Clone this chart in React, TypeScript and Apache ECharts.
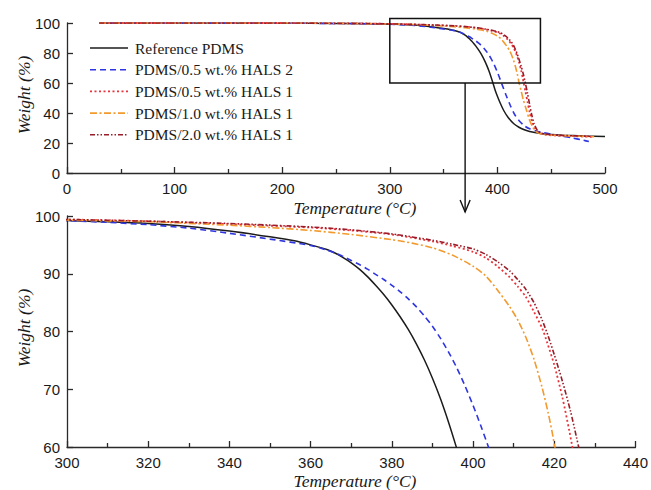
import React, { useEffect, useRef } from "react";
import * as echarts from "echarts";

// ---- data (temperature °C, weight %) ----
const refT = [30, 100, 200, 250, 280, 300, 310, 320, 330, 340, 350, 356, 360, 364, 366, 368, 370, 372, 374, 376, 378, 380, 382, 384, 386, 388, 390, 392, 394, 396, 398, 400, 403, 406, 410, 415, 420, 425, 430, 440, 450, 460, 480, 500];
const refW = [100, 100, 99.9, 99.7, 99.5, 99.2, 99.0, 98.7, 98.2, 97.4, 96.4, 95.7, 95.0, 94.2, 93.6, 92.8, 91.9, 90.8, 89.5, 88.0, 86.4, 84.6, 82.6, 80.4, 77.9, 75.1, 71.9, 68.3, 64.2, 59.7, 55.0, 51.2, 46.0, 41.5, 37.0, 33.0, 30.5, 28.8, 27.6, 26.3, 25.6, 25.2, 24.7, 24.3];

const hals2T = [30, 100, 200, 250, 280, 300, 310, 320, 330, 340, 350, 360, 364, 366, 368, 370, 372, 374, 376, 378, 380, 382, 384, 386, 388, 390, 392, 394, 396, 398, 400, 402, 404, 408, 412, 416, 420, 425, 430, 440, 450, 460, 470, 480, 485];
const hals2W = [100, 100, 99.9, 99.7, 99.5, 99.2, 98.9, 98.5, 97.9, 97.0, 96.0, 94.9, 94.1, 93.6, 93.0, 92.3, 91.6, 90.8, 89.9, 89.0, 88.0, 86.9, 85.7, 84.3, 82.7, 80.9, 78.8, 76.4, 73.7, 70.6, 67.2, 63.5, 59.6, 52.0, 45.0, 39.0, 35.0, 31.5, 29.5, 27.3, 25.8, 24.6, 23.3, 21.8, 21.0];

const h05T = [30, 100, 200, 250, 280, 300, 320, 340, 360, 370, 380, 390, 395, 400, 403, 406, 409, 411, 413, 415, 417, 418.2, 420, 422, 423.7, 424.3, 426, 428, 430, 432, 435, 438, 445, 460, 480, 490];
const h05W = [100, 100, 100, 99.8, 99.6, 99.4, 99.1, 98.6, 98.0, 97.5, 96.8, 95.6, 94.8, 93.8, 92.8, 91.3, 89.4, 87.8, 86.0, 83.4, 80.6, 78.2, 74.2, 68.6, 62.8, 60.6, 54.5, 47.5, 40.5, 34.5, 29.5, 27.0, 25.5, 24.8, 24.3, 24.0];

const h10T = [30, 100, 200, 250, 280, 300, 320, 340, 350, 360, 370, 380, 385, 390, 395, 400, 403, 406, 409, 411, 413, 415, 417, 418.5, 419.5, 420.2, 422, 424, 427, 430, 433, 436, 440, 450, 470, 490];
const h10W = [100, 100, 100, 99.8, 99.6, 99.3, 99.0, 98.4, 98.0, 97.5, 96.8, 95.9, 95.3, 94.5, 93.2, 91.3, 89.7, 87.2, 84.3, 82.0, 79.0, 75.2, 70.3, 65.9, 62.5, 59.8, 55.0, 49.0, 42.0, 35.0, 30.5, 27.5, 26.2, 25.3, 24.7, 24.2];

const h20T = [30, 100, 200, 250, 280, 300, 320, 340, 360, 370, 380, 390, 395, 400, 403, 406, 409, 411, 413, 415, 417, 418.5, 420, 422, 424, 425.5, 426, 428, 430, 432, 434, 437, 440, 450, 470, 485];
const h20W = [100, 100, 100, 99.8, 99.7, 99.4, 99.1, 98.7, 98.1, 97.6, 96.9, 95.8, 95.1, 94.3, 93.4, 92.1, 90.5, 89.0, 87.3, 85.0, 82.0, 79.2, 76.0, 71.4, 66.2, 61.6, 60.0, 53.0, 45.5, 38.5, 33.0, 28.5, 26.8, 25.5, 24.8, 24.5];

const seriesNames = [
  "Reference PDMS",
  "PDMS/0.5 wt.% HALS 2",
  "PDMS/0.5 wt.% HALS 1",
  "PDMS/1.0 wt.% HALS 1",
  "PDMS/2.0 wt.% HALS 1",
];

// zoom box of the upper panel: [xmin, xmax, ymin, ymax]
const zoomBox = [300, 440, 60, 103];

const SANS = "'Liberation Sans', Arial, Helvetica, sans-serif";
const SERIF = "'Liberation Serif', 'Times New Roman', serif";
const AX = "#2a2a2a";

export default function App() {
  const ref = useRef<HTMLDivElement>(null);

  useEffect(() => {
    if (!ref.current) return;
    const chart = echarts.init(ref.current, undefined, { renderer: "svg" });

    const sets = [
      { name: seriesNames[0], t: refT, w: refW, color: "#1c1c1c", dash: null as any, width: 1.5 },
      { name: seriesNames[1], t: hals2T, w: hals2W, color: "#2f35e0", dash: [6, 4], width: 1.6 },
      { name: seriesNames[2], t: h05T, w: h05W, color: "#e8333a", dash: [2, 2.5], width: 1.8 },
      { name: seriesNames[3], t: h10T, w: h10W, color: "#f29a2e", dash: [7, 2.5, 2, 2.5], width: 1.6 },
      { name: seriesNames[4], t: h20T, w: h20W, color: "#9a1c28", dash: [5, 2, 1.5, 2, 1.5, 2], width: 1.6 },
    ];

    const series: any[] = [];
    [0, 1].forEach((g) => {
      sets.forEach((s) => {
        series.push({
          type: "line",
          name: s.name,
          xAxisIndex: g,
          yAxisIndex: g,
          data: s.t.map((t, i) => [t, s.w[i]]),
          symbol: "none",
          showSymbol: false,
          smooth: 0.25,
          clip: true,
          lineStyle: { color: s.color, width: s.width, type: s.dash ? s.dash : "solid" },
          itemStyle: { color: s.color },
          z: 2,
        });
      });
    });

    const lineCommon = { color: AX, width: 1.3 };
    const axisLabel = { color: "#1a1a1a", fontFamily: SANS, fontSize: 15, margin: 7 };

    const xCommon = (min: number, max: number, interval: number, gridIndex: number) => ({
      type: "value",
      gridIndex,
      min,
      max,
      interval,
      axisLine: { show: true, onZero: false, lineStyle: lineCommon },
      axisTick: { show: true, inside: true, length: 6, lineStyle: lineCommon },
      minorTick: { show: true, splitNumber: 2, length: 4, lineStyle: lineCommon },
      splitLine: { show: false },
      minorSplitLine: { show: false },
      axisLabel: { ...axisLabel, margin: 8 },
    });
    const yCommon = (min: number, max: number, interval: number, gridIndex: number) => ({
      type: "value",
      gridIndex,
      min,
      max,
      interval,
      axisLine: { show: true, onZero: false, lineStyle: lineCommon },
      axisTick: { show: true, inside: true, length: 6, lineStyle: lineCommon },
      splitLine: { show: false },
      axisLabel,
    });

    chart.setOption({
      animation: false,
      backgroundColor: "#ffffff",
      grid: [
        { left: 67, top: 23, width: 538, height: 150 },
        { left: 67, top: 216, width: 570, height: 231 },
      ],
      xAxis: [xCommon(0, 500, 100, 0), xCommon(300, 440, 20, 1)],
      yAxis: [yCommon(0, 100, 20, 0), yCommon(60, 100, 10, 1)],
      series,
    });

    const p1 = chart.convertToPixel({ gridIndex: 0 } as any, [zoomBox[0], zoomBox[3]]) as number[];
    const p2 = chart.convertToPixel({ gridIndex: 0 } as any, [zoomBox[1], zoomBox[2]]) as number[];
    const cx = (p1[0] + p2[0]) / 2;
    const arrowEnd = 212;

    const titleFont = `italic 17.5px ${SERIF}`;
    const center = { align: "center", verticalAlign: "middle", textAlign: "center", textVerticalAlign: "middle" };

    // manual legend (line samples + labels)
    const legendItems: any[] = [];
    sets.forEach((s, i) => {
      const y = 48 + i * 21.7;
      legendItems.push({
        type: "line",
        shape: { x1: 90, y1: y, x2: 128, y2: y },
        style: { stroke: s.color, lineWidth: s.width, lineDash: s.dash || undefined },
        z: 10,
      });
      legendItems.push({
        type: "text",
        x: 135,
        y,
        style: { text: s.name, font: `15.5px ${SERIF}`, fill: "#1a1a1a", align: "left", verticalAlign: "middle", textAlign: "left", textVerticalAlign: "middle" },
        z: 10,
      });
    });

    chart.setOption({
      graphic: [
        {
          type: "rect",
          shape: { x: p1[0], y: p1[1], width: p2[0] - p1[0], height: p2[1] - p1[1] },
          style: { fill: "transparent", stroke: "#111", lineWidth: 1.5 },
          z: 10,
        },
        {
          type: "line",
          shape: { x1: cx, y1: p2[1], x2: cx, y2: arrowEnd },
          style: { stroke: "#111", lineWidth: 1.4 },
          z: 10,
        },
        {
          type: "polyline",
          shape: { points: [[cx - 5, arrowEnd - 12], [cx, arrowEnd], [cx + 5, arrowEnd - 12]] },
          style: { stroke: "#111", lineWidth: 1.4, fill: "transparent" },
          z: 10,
        },
        ...legendItems,
        {
          type: "text",
          x: 355,
          y: 208,
          style: { text: "Temperature (°C)", font: titleFont, fill: "#1a1a1a", ...center },
        },
        {
          type: "text",
          x: 355,
          y: 481,
          style: { text: "Temperature (°C)", font: titleFont, fill: "#1a1a1a", ...center },
        },
        {
          type: "text",
          x: 24,
          y: 95,
          rotation: Math.PI / 2,
          style: { text: "Weight (%)", font: titleFont, fill: "#1a1a1a", ...center },
        },
        {
          type: "text",
          x: 24,
          y: 328,
          rotation: Math.PI / 2,
          style: { text: "Weight (%)", font: titleFont, fill: "#1a1a1a", ...center },
        },
      ],
    });

    return () => chart.dispose();
  }, []);

  return (
    <div
      ref={ref}
      style={{ position: "absolute", left: 0, top: 0, width: 651, height: 490, background: "#fff" }}
    />
  );
}
